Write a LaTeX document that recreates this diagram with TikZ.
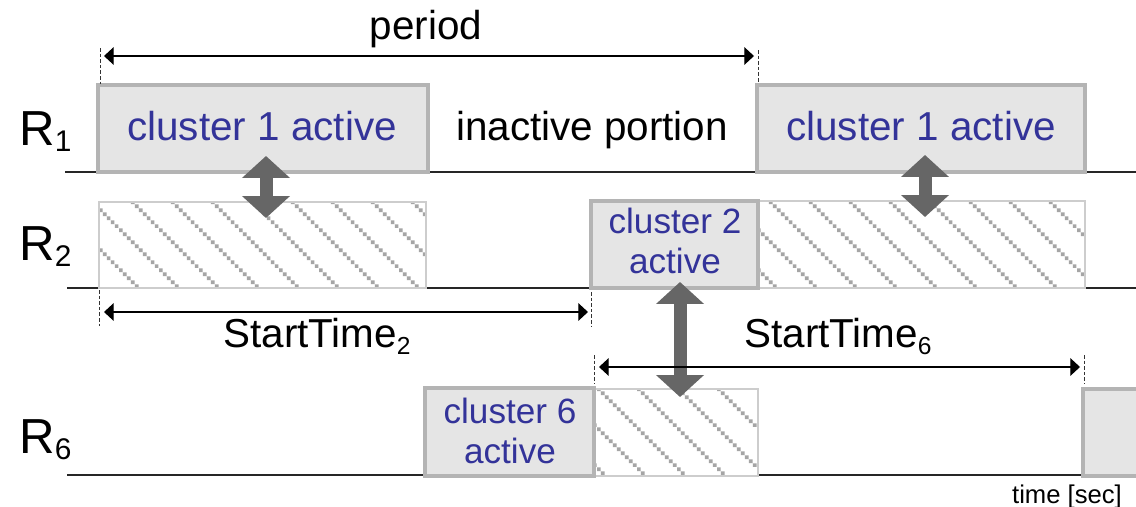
\documentclass[tikz,border=0pt]{standalone}
\usepackage{fontspec}
\setmainfont{Liberation Sans}
\usetikzlibrary{arrows.meta,fit,patterns}

\definecolor{clustertext}{RGB}{51,51,153}
\definecolor{boxfill}{RGB}{229,229,229}
\definecolor{boxline}{RGB}{180,180,180}
\definecolor{hatchdot}{RGB}{165,165,165}
\definecolor{hatchframe}{RGB}{205,205,205}
\definecolor{linkgray}{RGB}{102,102,102}

% diagonal rows of small square dots, 40px apart
\pgfdeclarepatternformonly{diagdots}{\pgfqpoint{0pt}{0pt}}{\pgfqpoint{22.68pt}{22.68pt}}{\pgfqpoint{22.68pt}{22.68pt}}{%
  \pgfpathrectangle{\pgfqpoint{0pt}{20.412pt}}{\pgfqpoint{2.1pt}{2.1pt}}%
  \pgfpathrectangle{\pgfqpoint{2.268pt}{18.144pt}}{\pgfqpoint{2.1pt}{2.1pt}}%
  \pgfpathrectangle{\pgfqpoint{4.536pt}{15.876pt}}{\pgfqpoint{2.1pt}{2.1pt}}%
  \pgfpathrectangle{\pgfqpoint{6.804pt}{13.608pt}}{\pgfqpoint{2.1pt}{2.1pt}}%
  \pgfpathrectangle{\pgfqpoint{9.072pt}{11.34pt}}{\pgfqpoint{2.1pt}{2.1pt}}%
  \pgfpathrectangle{\pgfqpoint{11.34pt}{9.072pt}}{\pgfqpoint{2.1pt}{2.1pt}}%
  \pgfpathrectangle{\pgfqpoint{13.608pt}{6.804pt}}{\pgfqpoint{2.1pt}{2.1pt}}%
  \pgfpathrectangle{\pgfqpoint{15.876pt}{4.536pt}}{\pgfqpoint{2.1pt}{2.1pt}}%
  \pgfpathrectangle{\pgfqpoint{18.144pt}{2.268pt}}{\pgfqpoint{2.1pt}{2.1pt}}%
  \pgfpathrectangle{\pgfqpoint{20.412pt}{0pt}}{\pgfqpoint{2.1pt}{2.1pt}}%
  \pgfusepath{fill}%
}

\begin{document}
\begin{tikzpicture}[x=0.02cm, y=-0.02cm,
  timeline/.style={draw=black!85, line width=1pt},
  activebox/.style={draw=boxline, fill=boxfill, line width=1.8pt, inner sep=0pt},
  clusterlabel/.style={anchor=base, inner sep=0pt, text=clustertext, font=\fontsize{23}{26}\selectfont},
  clusterpair/.style={anchor=base, inner sep=0pt, text=clustertext, align=center, font=\fontsize{20}{22.7}\selectfont},
  idlebox/.style={draw=hatchframe, line width=0.6pt, inner sep=0pt,
    preaction={fill=white}, pattern=diagdots, pattern color=hatchdot},
  link/.style={draw=linkgray, line width=7.4pt,
    {Triangle[length=12.5pt,width=26.6pt]}-{Triangle[length=12.5pt,width=26.6pt]}},
  guide/.style={draw=black!80, line width=0.5pt, dash pattern=on 2pt off 1.2pt},
  spanarrow/.style={draw=black, line width=0.7pt,
    {Triangle[length=5.5pt,width=10pt]}-{Triangle[length=5.5pt,width=10pt]}},
  caption/.style={anchor=base, inner sep=0pt, font=\fontsize{23}{26}\selectfont},
  rowlabel/.style={anchor=base west, font=\fontsize{28}{30}\selectfont, inner sep=0pt},
]
\useasboundingbox (0,0) rectangle (1136,507);
\clip (0,0) rectangle (1136,507);

% time lines of the three radios
\draw[timeline] (65,172) -- (1136,172);
\draw[timeline] (67,288) -- (1136,288);
\draw[timeline] (67,475) -- (1136,475);

% row labels
\node[rowlabel] (r1) at (19,145) {R\raisebox{-3.6pt}{\fontsize{17}{17}\selectfont 1}};
\node[rowlabel] (r2) at (19,260) {R\raisebox{-3.6pt}{\fontsize{17}{17}\selectfont 2}};
\node[rowlabel] (r6) at (19,453) {R\raisebox{-3.6pt}{\fontsize{17}{17}\selectfont 6}};

% R1 schedule
\node[activebox, fit={(98,85) (428,172)}] (a1) {};
\node[clusterlabel] (a1t) at (262,140) {cluster 1 active};
\node[activebox, fit={(757,85) (1085,172)}] (a1b) {};
\node[clusterlabel] (a1bt) at (921,140) {cluster 1 active};
\node[caption] (idle) at (592,140) {inactive portion};

% R2 schedule
\node[idlebox, fit={(99,202) (426,288)}] (h2a) {};
\node[idlebox, fit={(758,201) (1085,288)}] (h2b) {};
\node[activebox, fit={(591,201) (758,288)}] (a2) {};
\node[clusterpair] (a2t) at (675,273) {cluster 2\\active};

% R6 schedule
\node[idlebox, fit={(594,389) (758,476)}] (h6) {};
\node[activebox, fit={(425,388) (594,476)}] (a6) {};
\node[clusterpair] (a6t) at (510,463) {cluster 6\\active};
\node[activebox, fit={(1083,389) (1170,476)}] (a6b) {};

% interference links between clusters
\coordinate (l1t) at (266,156);
\coordinate (l1b) at (266,218);
\draw[link] (l1t) -- (l1b);
\coordinate (l2t) at (925,155);
\coordinate (l2b) at (925,217);
\draw[link] (l2t) -- (l2b);
\coordinate (l3t) at (680,282);
\coordinate (l3b) at (680,397);
\draw[link] (l3t) -- (l3b);

% period
\coordinate (pL) at (104,56);
\coordinate (pR) at (754,56);
\draw[guide] (100,48) -- (100,84);
\draw[guide] (758,50) -- (758,82);
\draw[spanarrow] (pL) -- (pR);
\node[caption] (period) at (426,39) {period};

% start time of radio 2
\coordinate (s2L) at (104,312);
\coordinate (s2R) at (588,312);
\draw[guide] (99,290) -- (99,326);
\draw[guide] (591,292) -- (591,326);
\draw[spanarrow] (s2L) -- (s2R);
\node[caption, anchor=base west] (st2) at (223,347) {StartTime\raisebox{-4.5pt}{\fontsize{14}{14}\selectfont 2}};

% start time of radio 6
\coordinate (s6L) at (599,367);
\coordinate (s6R) at (1080,367);
\draw[guide] (594,355) -- (594,384);
\draw[guide] (1084,355) -- (1084,384);
\draw[spanarrow] (s6L) -- (s6R);
\node[caption, anchor=base west] (st6) at (744,347) {StartTime\raisebox{-4.5pt}{\fontsize{14}{14}\selectfont 6}};

% axis caption
\node[anchor=base, inner sep=0pt, font=\fontsize{14.6}{16}\selectfont] (axis) at (1067,503) {time [sec]};
\end{tikzpicture}
\end{document}
